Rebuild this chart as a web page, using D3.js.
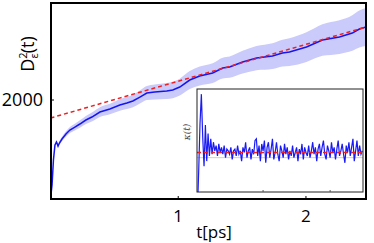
<!DOCTYPE html>
<html><head><meta charset="utf-8">
<script src="https://cdn.jsdelivr.net/npm/d3@7"></script>
<style>html,body{margin:0;padding:0;background:#fff;}svg{display:block;}</style>
</head><body>
<svg id="c" width="374" height="243"></svg>
<script>
// ---- data ----
const tMain = [0, 0.012, 0.023, 0.035, 0.047, 0.059, 0.07, 0.09, 0.121, 0.152, 0.191, 0.23, 0.277, 0.324, 0.387, 0.465, 0.543, 0.598, 0.645, 0.70, 0.754, 0.816, 0.91, 0.957, 1.012, 1.09, 1.168, 1.27, 1.348, 1.402, 1.504, 1.613, 1.738, 1.816, 1.871, 2.004, 2.129, 2.262, 2.363, 2.418, 2.47];
const dMain = [0, 283, 788, 1091, 1151, 1071, 1131, 1212, 1313, 1394, 1454, 1515, 1596, 1656, 1757, 1818, 1899, 1939, 1980, 2060, 2141, 2161, 2182, 2202, 2262, 2404, 2485, 2545, 2646, 2666, 2767, 2848, 2889, 2949, 2969, 3070, 3212, 3272, 3353, 3434, 3474];
const sdMain = [0, 10, 20, 25, 30, 35, 40, 45, 55, 60, 68, 75, 82, 90, 98, 105, 115, 120, 125, 130, 140, 150, 160, 165, 170, 180, 190, 200, 210, 215, 230, 245, 260, 270, 280, 300, 320, 340, 360, 375, 385];
const fitT = [0, 2.47];
const fitD = [1636, 3474];
const yTicks = [2000];
const xTicks = [1, 2];

const kappa = [-1.6, -1.6, -0.4, 1.0, 1.85, 0.6, -0.25, 0.95, -0.1, 0.7, 0.05, 0.55, 0.1, 0.45, 0.2, 0.35, 0.05, 0.4, 0.15, 0.3,
  0.1, 0.35, 0.0, 0.25, 0.2, 0.1, 0.3, -0.05, 0.2, 0.25,
  0.05, 0.35, 0.1, 0.2, -0.1, 0.3, 0.15, 0.45, 0.0, 0.2,
  0.3, -0.05, 0.25, 0.1, 0.5, 0.55, 0.05, 0.35, -0.1, 0.4,
  0.2, 0.5, -0.15, 0.3, 0.45, 0.0, 0.25, 0.55, -0.05, 0.15,
  0.45, 0.1, -0.1, 0.35, 0.2, 0.0, 0.4, 0.1, 0.3, -0.05,
  0.2, 0.05, 0.35, 0.0, 0.15, 0.3, -0.1, 0.25, 0.1, 0.4,
  -0.05, 0.3, 0.15, 0.05, 0.35, 0.0, 0.2, 0.45, 0.1, 0.3,
  -0.1, 0.25, 0.4, 0.05, 0.3, 0.5, 0.1, -0.05, 0.35, 0.2,
  0.0, 0.45, 0.15, 0.3, -0.05, 0.25, 0.5, 0.05, 0.2, 0.4,
  0.1, -0.15, 0.35, 0.15, 0.45, 0.05, 0.3, 0.55, -0.1, 0.2,
  0.5, 0.05, 0.35, 0.1, 0.2];
const kappaDt = 0.02;
const kappaMean = 0.15;
const insetTicks = [1, 2];

// ---- layout ----
const svg = d3.select("#c");
const M = {l: 51, t: 3, r: 366, b: 199};
const x = d3.scaleLinear().domain([0, 2.47]).range([50.5, 366]);
const y = d3.scaleLinear().domain([0, 3960]).range([199, 3]);

svg.append("defs").append("clipPath").attr("id", "mc")
  .append("rect").attr("x", M.l).attr("y", M.t).attr("width", M.r - M.l).attr("height", M.b - M.t);

const g = svg.append("g").attr("clip-path", "url(#mc)");
const main = tMain.map((t, i) => ({t, d: dMain[i], s: sdMain[i]}));

g.append("path").datum(main)
  .attr("d", d3.area().x(p => x(p.t)).y0(p => y(p.d - p.s)).y1(p => y(p.d + p.s)).curve(d3.curveMonotoneX))
  .attr("fill", "#cacafb");
g.append("path").datum(main)
  .attr("d", d3.line().x(p => x(p.t)).y(p => y(p.d)))
  .attr("fill", "none").attr("stroke", "#1515f0").attr("stroke-width", 1.5);
g.append("path").datum(fitT.map((t, i) => ({t, d: fitD[i]})))
  .attr("d", d3.line().x(p => x(p.t)).y(p => y(p.d)))
  .attr("fill", "none").attr("stroke", "#f02020").attr("stroke-width", 1.5).attr("stroke-dasharray", "4,3");

// frame
svg.append("rect").attr("x", M.l).attr("y", M.t).attr("width", M.r - M.l).attr("height", M.b - M.t)
  .attr("fill", "none").attr("stroke", "#000").attr("stroke-width", 2);

// ticks
svg.selectAll(".yt").data(yTicks).enter().append("line")
  .attr("x1", M.l).attr("x2", M.l + 3).attr("y1", d => y(d)).attr("y2", d => y(d)).attr("stroke", "#000").attr("stroke-width", 1);
svg.selectAll(".ytl").data(yTicks).enter().append("text")
  .attr("x", 43).attr("y", d => y(d) + 6).attr("text-anchor", "end")
  .attr("font-family", "Open Sans, sans-serif").attr("font-size", 18).text(d => d);
svg.selectAll(".xt").data(xTicks).enter().append("line")
  .attr("x1", d => x(d)).attr("x2", d => x(d)).attr("y1", M.b).attr("y2", M.b - 3).attr("stroke", "#000").attr("stroke-width", 1);
svg.selectAll(".xtl").data(xTicks).enter().append("text")
  .attr("x", d => x(d)).attr("y", 222).attr("text-anchor", "middle")
  .attr("font-family", "Open Sans, sans-serif").attr("font-size", 17).text(d => d);

svg.append("text").attr("x", 214).attr("y", 238).attr("text-anchor", "middle")
  .attr("font-family", "Open Sans, sans-serif").attr("font-size", 17).text("t[ps]");

const yl = svg.append("text").attr("transform", "translate(34,54) rotate(-90)").attr("text-anchor", "middle")
  .attr("font-family", "Open Sans, sans-serif").attr("font-size", 18);
yl.append("tspan").text("D");
yl.append("tspan").attr("font-size", 11).attr("dy", -7).text("2");
yl.append("tspan").attr("font-size", 11).attr("dx", -6).attr("dy", 11).text("ε");
yl.append("tspan").attr("dy", -4).text("(t)");

// ---- inset ----
const I = {l: 197, t: 89, r: 363, b: 192};
const xi = d3.scaleLinear().domain([0, 2.49]).range([196, 363]);
const yi = d3.scaleLinear().domain([-1, 2]).range([192, 89]);

svg.append("rect").attr("x", I.l).attr("y", I.t).attr("width", I.r - I.l).attr("height", I.b - I.t).attr("fill", "#fff");
svg.select("defs").append("clipPath").attr("id", "ic")
  .append("rect").attr("x", I.l).attr("y", I.t).attr("width", I.r - I.l).attr("height", I.b - I.t);
const gi = svg.append("g").attr("clip-path", "url(#ic)");
gi.append("line").attr("x1", I.l).attr("x2", I.r).attr("y1", yi(0)).attr("y2", yi(0)).attr("stroke", "#cfcfcf").attr("stroke-width", 1);
gi.append("path").datum(kappa.map((k, i) => ({t: i * kappaDt, k})))
  .attr("d", d3.line().x(p => xi(p.t)).y(p => yi(p.k)))
  .attr("fill", "none").attr("stroke", "#1a1af5").attr("stroke-width", 1.2);
gi.append("line").attr("x1", I.l).attr("x2", I.r).attr("y1", yi(kappaMean)).attr("y2", yi(kappaMean))
  .attr("stroke", "#f02020").attr("stroke-width", 1.5).attr("stroke-dasharray", "4,3");
svg.append("rect").attr("x", I.l).attr("y", I.t).attr("width", I.r - I.l).attr("height", I.b - I.t)
  .attr("fill", "none").attr("stroke", "#222").attr("stroke-width", 1);
svg.selectAll(".it").data(insetTicks).enter().append("line")
  .attr("x1", d => xi(d)).attr("x2", d => xi(d)).attr("y1", I.b).attr("y2", I.b - 2).attr("stroke", "#555").attr("stroke-width", 1);
svg.append("text").attr("transform", "translate(190,132) rotate(-90)").attr("text-anchor", "middle")
  .attr("font-family", "DejaVu Serif, serif").attr("font-style", "italic").attr("font-size", 9).attr("fill", "#444").text("κ(t)");
</script>
</body></html>
